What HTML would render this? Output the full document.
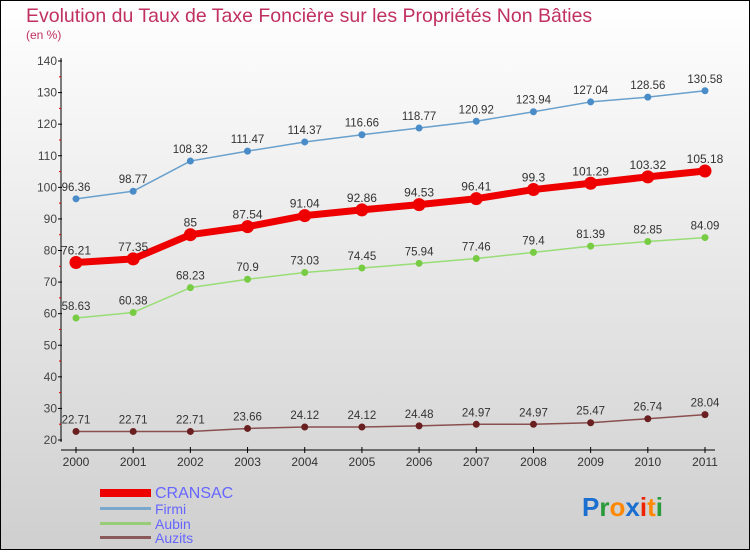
<!DOCTYPE html>
<html><head><meta charset="utf-8"><style>
html,body{margin:0;padding:0}
body{width:750px;height:550px;overflow:hidden;font-family:"Liberation Sans",sans-serif}
svg text{font-family:"Liberation Sans",sans-serif}
</style></head><body>
<svg id="c" width="750" height="550" xmlns="http://www.w3.org/2000/svg">
<defs><linearGradient id="bg" x1="0" y1="0" x2="0" y2="1"><stop offset="0" stop-color="#ffffff"/><stop offset="1" stop-color="#cfcfcf"/></linearGradient></defs>
<rect x="0.5" y="0.5" width="749" height="549" fill="url(#bg)" stroke="#000"/>
<text x="26" y="22" font-size="19.5" fill="#c03060">Evolution du Taux de Taxe Foncière sur les Propriétés Non Bâties</text>
<text x="26" y="39" font-size="12" fill="#c03060">(en %)</text>
<g id="axes"></g><g id="series"></g>
<g>
<rect x="100" y="489" width="51" height="8" fill="#ee0000"/>
<text x="155" y="498" font-size="16" fill="#6666ff">CRANSAC</text>
<rect x="100" y="507" width="51" height="3" fill="#7aa8cc"/>
<text x="155" y="514" font-size="14" fill="#6666ff">Firmi</text>
<rect x="100" y="522" width="51" height="3" fill="#99cc77"/>
<text x="155" y="529" font-size="14" fill="#6666ff">Aubin</text>
<rect x="100" y="536" width="51" height="3" fill="#8a5a5a"/>
<text x="155" y="543" font-size="14" fill="#6666ff">Auzits</text>
</g>
<text x="582" y="516" font-size="26" font-weight="bold"><tspan fill="#1a6fd0">P</tspan><tspan fill="#2a9a3a">r</tspan><tspan fill="#ff8800">o</tspan><tspan fill="#1a6fd0">x</tspan><tspan fill="#ee2200">i</tspan><tspan fill="#ff8800">t</tspan><tspan fill="#2a9a3a">i</tspan></text>
</svg>
<script>
const years=[2000,2001,2002,2003,2004,2005,2006,2007,2008,2009,2010,2011];
const cransac=[76.21,77.35,85,87.54,91.04,92.86,94.53,96.41,99.3,101.29,103.32,105.18];
const firmi=[96.36,98.77,108.32,111.47,114.37,116.66,118.77,120.92,123.94,127.04,128.56,130.58];
const aubin=[58.63,60.38,68.23,70.9,73.03,74.45,75.94,77.46,79.4,81.39,82.85,84.09];
const auzits=[22.71,22.71,22.71,23.66,24.12,24.12,24.48,24.97,24.97,25.47,26.74,28.04];
const yTicks=[20,30,40,50,60,70,80,90,100,110,120,130,140];
const NS="http://www.w3.org/2000/svg";
const x=i=>76+i*(705-76)/(years.length-1);
const y=v=>440-(v-20)*(440-61)/120;
function mk(t,a,p){const e=document.createElementNS(NS,t);for(const k in a)e.setAttribute(k,a[k]);p.appendChild(e);return e;}
const ax=document.getElementById('axes');
const yl=mk('line',{x1:61,y1:58,x2:61,y2:442,stroke:'#000'},ax);


yTicks.forEach(v=>{
 mk('line',{x1:58,y1:y(v),x2:62,y2:y(v),stroke:'#000'},ax);
 if(v<140) mk('line',{x1:59,y1:y(v+5),x2:61,y2:y(v+5),stroke:'#d00'},ax);
 const t=mk('text',{x:57,y:y(v)+4,'font-size':12,'text-anchor':'end',fill:'#444'},ax);t.textContent=v;
 
 
});
const xl=mk('line',{x1:61,y1:450,x2:715,y2:450,stroke:'#000'},ax);


years.forEach((yr,i)=>{
 mk('line',{x1:x(i),y1:447,x2:x(i),y2:453,stroke:'#000'},ax);
 const t=mk('text',{x:x(i),y:466,'font-size':12,'text-anchor':'middle',fill:'#333'},ax);t.textContent=yr;
 
 
});
const sg=document.getElementById('series');
function series(data,name,color,dot,w,r,fs){
 const g=mk('g',{},sg);
 
 
 const l=mk('polyline',{points:data.map((v,i)=>x(i)+','+y(v)).join(' '),fill:'none',stroke:color,'stroke-width':w,'stroke-linejoin':'round'},g);
 
 
 data.forEach((v,i)=>{
  const c=mk('circle',{cx:x(i),cy:y(v),r:r,fill:dot},g);
  
  
  const t=mk('text',{x:x(i),y:y(v)-8,'font-size':fs,'text-anchor':'middle',fill:'#333'},g);t.textContent=v;
  
  
 });
}
series(firmi,'firmi','#6aa0cc','#4a8cc8',1.5,3.5,11.5);
series(aubin,'aubin','#99dd77','#77cc44',1.5,3.5,11.5);
series(auzits,'auzits','#8a5050','#6a2020',1.5,3.5,11.5);
series(cransac,'cransac','#ee0000','#ee0000',7,6.5,12);
</script>
</body></html>
